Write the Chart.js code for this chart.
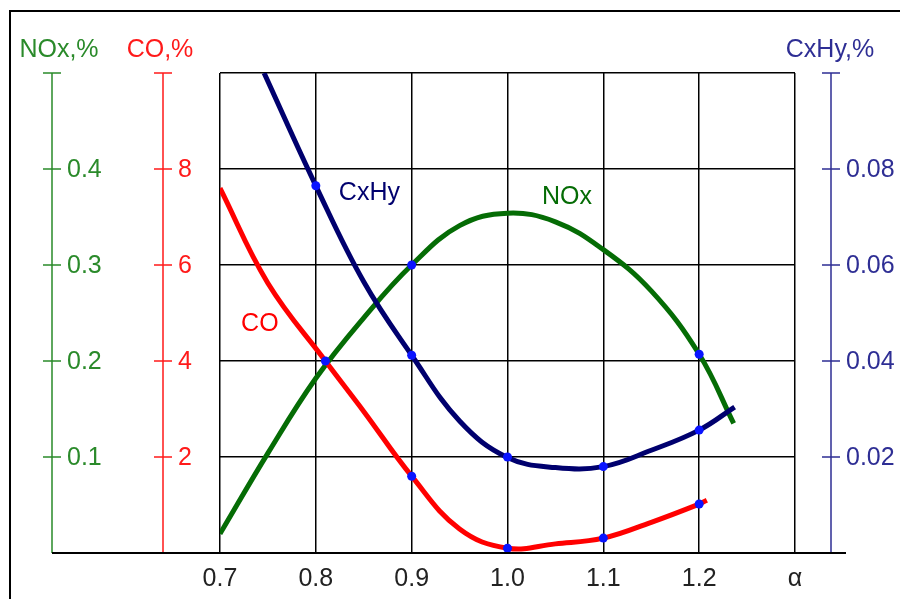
<!DOCTYPE html>
<html>
<head>
<meta charset="utf-8">
<script src="https://cdn.jsdelivr.net/npm/chart.js@4/dist/chart.umd.min.js"></script>
<style>
  html, body { margin: 0; padding: 0; background: #fff; }
  canvas { display: block; }
</style>
</head>
<body>
<canvas id="chart" width="900" height="599"></canvas>
<script>
// x axis (excess air ratio alpha)
const alphaTicks = [0.7, 0.8, 0.9, 1.0, 1.1, 1.2, 1.3];
const alphaTickLabels = ['0.7', '0.8', '0.9', '1.0', '1.1', '1.2', 'α'];

// CO, %
const coAlpha  = [0.70, 0.75, 0.81, 0.85, 0.90, 0.95, 1.00, 1.05, 1.10, 1.15, 1.20, 1.208];
const coValues = [7.60, 5.62, 4.00, 2.95, 1.60, 0.50, 0.10, 0.19, 0.31, 0.64, 1.02, 1.10];

// NOx, %
const noxAlpha  = [0.70, 0.75, 0.80, 0.85, 0.90, 0.95, 1.00, 1.05, 1.10, 1.15, 1.20, 1.236];
const noxValues = [0.020, 0.104, 0.182, 0.245, 0.300, 0.341, 0.354, 0.345, 0.316, 0.273, 0.207, 0.135];

// CxHy, %
const cxhyAlpha  = [0.746, 0.80, 0.85, 0.90, 0.95, 1.00, 1.05, 1.10, 1.15, 1.20, 1.237];
const cxhyValues = [0.1000, 0.0765, 0.0565, 0.0412, 0.0275, 0.0199, 0.0178, 0.0180, 0.0214, 0.0256, 0.0304];

// measured points (blue dots)
const coDotAlpha    = [0.81, 0.9, 1.0, 1.1, 1.2];
const coDotValues   = [4.0, 1.6, 0.1, 0.31, 1.02];
const cxhyDotAlpha  = [0.8, 0.9, 1.0, 1.1, 1.2];
const cxhyDotValues = [0.0765, 0.0412, 0.0200, 0.0180, 0.0256];
const noxDotAlpha   = [0.9, 1.2];
const noxDotValues  = [0.300, 0.207];

// side axis ticks
const noxTicks  = [0.1, 0.2, 0.3, 0.4];
const coTicks   = [2, 4, 6, 8];
const cxhyTicks = [0.02, 0.04, 0.06, 0.08];

const colors = {
    co: '#ff0000',
    nox: '#056c05',
    cxhy: '#00006e',
    dot: '#0a14ff',
    noxAxis: '#2a8a2a',
    coAxis: '#ff1a1a',
    cxhyAxis: '#2e2e94',
};

const FONT = '25px "Liberation Sans", Arial, sans-serif';
Chart.defaults.font.family = '"Liberation Sans", Arial, sans-serif';

const pts = (xs, ys) => xs.map((x, i) => ({ x, y: ys[i] }));

function curve(label, xs, ys, color, yAxisID, order) {
    return {
        label, data: pts(xs, ys), yAxisID, order,
        borderColor: color, borderWidth: 5,
        pointRadius: 0, tension: 0.4,
        borderCapStyle: 'butt', borderJoinStyle: 'round', fill: false,
    };
}

function dots(label, xs, ys, yAxisID) {
    return {
        label, data: pts(xs, ys), yAxisID, order: 0,
        showLine: false, pointRadius: 4.5, pointBorderWidth: 0,
        pointBackgroundColor: colors.dot, borderColor: colors.dot,
    };
}

const sideAxes = {
    id: 'sideAxes',
    beforeDraw(chart) {
        const { ctx } = chart;
        ctx.save();
        ctx.fillStyle = '#fff';
        ctx.fillRect(0, 0, chart.width, chart.height);
        ctx.strokeStyle = '#000';
        ctx.lineWidth = 2;
        ctx.beginPath();
        ctx.moveTo(10, chart.height);
        ctx.lineTo(10, 11);
        ctx.lineTo(chart.width, 11);
        ctx.stroke();
        ctx.restore();
    },
    afterDraw(chart) {
        const { ctx, chartArea } = chart;
        const axes = [
            { id: 'yNox', x: 52, color: colors.noxAxis, ticks: noxTicks, fmt: v => v.toFixed(1), title: 'NOx,%', titleX: 59 },
            { id: 'yCo', x: 163, color: colors.coAxis, ticks: coTicks, fmt: v => String(v), title: 'CO,%', titleX: 160 },
            { id: 'yCx', x: 831, color: colors.cxhyAxis, ticks: cxhyTicks, fmt: v => v.toFixed(2), title: 'CxHy,%', titleX: 830 },
        ];
        ctx.save();
        ctx.font = FONT;
        axes.forEach(a => {
            const s = chart.scales[a.id];
            const top = s.getPixelForValue(s.max);
            const bottom = s.getPixelForValue(s.min);
            ctx.strokeStyle = a.color;
            ctx.fillStyle = a.color;
            ctx.lineWidth = 1.5;
            ctx.beginPath();
            ctx.moveTo(a.x, top);
            ctx.lineTo(a.x, bottom);
            ctx.moveTo(a.x - 9, top);
            ctx.lineTo(a.x + 9, top);
            a.ticks.forEach(v => {
                const y = s.getPixelForValue(v);
                ctx.moveTo(a.x - 9, y);
                ctx.lineTo(a.x + 9, y);
            });
            ctx.stroke();
            ctx.textAlign = 'left';
            ctx.textBaseline = 'middle';
            a.ticks.forEach(v => {
                ctx.fillText(a.fmt(v), a.x + 15, s.getPixelForValue(v) + 1);
            });
            ctx.textAlign = 'center';
            ctx.textBaseline = 'alphabetic';
            ctx.fillText(a.title, a.titleX, 57);
        });

        // bottom axis line running under the side axes
        ctx.strokeStyle = '#000';
        ctx.lineWidth = 2;
        ctx.beginPath();
        ctx.moveTo(52, chartArea.bottom);
        ctx.lineTo(846, chartArea.bottom);
        ctx.stroke();

        // curve names
        const xs = chart.scales.x, ys = chart.scales.yCo;
        const names = [
            { text: 'CxHy', a: 0.824, v: 7.35, color: colors.cxhy },
            { text: 'NOx', a: 1.036, v: 7.27, color: colors.nox },
            { text: 'CO', a: 0.722, v: 4.62, color: colors.co },
        ];
        ctx.textAlign = 'left';
        names.forEach(n => {
            ctx.fillStyle = n.color;
            ctx.fillText(n.text, xs.getPixelForValue(n.a), ys.getPixelForValue(n.v));
        });
        ctx.restore();
    },
};

new Chart(document.getElementById('chart'), {
    type: 'line',
    data: {
        datasets: [
            dots('CO points', coDotAlpha, coDotValues, 'yCo'),
            dots('CxHy points', cxhyDotAlpha, cxhyDotValues, 'yCx'),
            dots('NOx points', noxDotAlpha, noxDotValues, 'yNox'),
            curve('CxHy', cxhyAlpha, cxhyValues, colors.cxhy, 'yCx', 1),
            curve('CO', coAlpha, coValues, colors.co, 'yCo', 2),
            curve('NOx', noxAlpha, noxValues, colors.nox, 'yNox', 3),
        ],
    },
    options: {
        responsive: false,
        animation: false,
        layout: { padding: { left: 220, right: 105, top: 73, bottom: 0 } },
        plugins: { legend: { display: false }, tooltip: { enabled: false } },
        scales: {
            x: {
                type: 'linear', min: 0.7, max: 1.3,
                afterBuildTicks: s => { s.ticks = alphaTicks.map(v => ({ value: v })); },
                afterFit: s => { s.height = 46; },
                border: { display: false },
                grid: { color: '#000', lineWidth: 1.5, drawTicks: false },
                ticks: {
                    autoSkip: false, maxRotation: 0, padding: 11,
                    color: '#222', font: { size: 25 },
                    callback: (v, i) => alphaTickLabels[i],
                },
            },
            yCo: {
                type: 'linear', position: 'left', min: 0, max: 10,
                afterFit: s => { s.width = 0; },
                border: { display: false },
                grid: { color: '#000', lineWidth: 1.5, drawTicks: false },
                ticks: { display: false, stepSize: 2 },
            },
            yNox: { type: 'linear', display: false, min: 0, max: 0.5 },
            yCx: { type: 'linear', display: false, min: 0, max: 0.1 },
        },
    },
    plugins: [sideAxes],
});
</script>
</body>
</html>
